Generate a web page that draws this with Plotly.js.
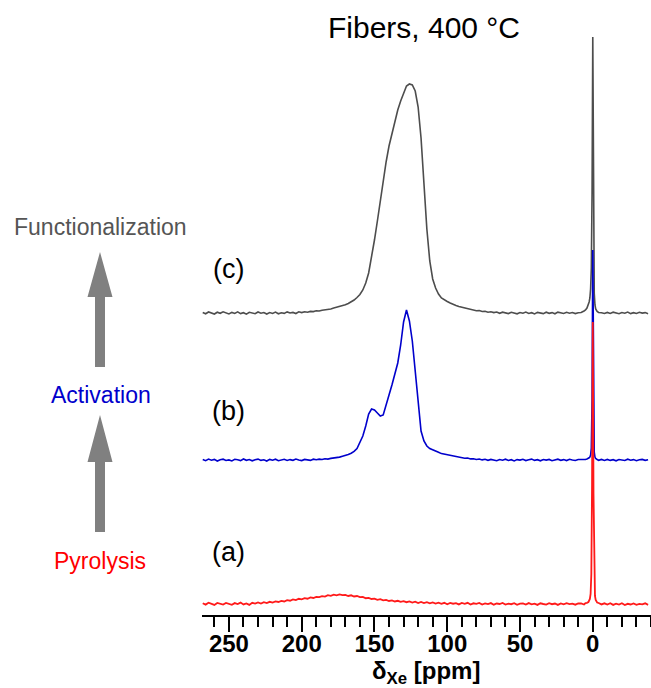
<!DOCTYPE html>
<html>
<head>
<meta charset="utf-8">
<script src="https://cdn.plot.ly/plotly-3.0.1.min.js"></script>
<style>html,body{margin:0;padding:0;background:#fff;}#chart{width:651px;height:688px;}</style>
</head>
<body>
<div id="chart"></div>
<script>
// Chemical shift axis (ppm), shared by all three spectra
const ppm = [
268,266,264,262,260,258,256,254,252,250,
248,246,244,242,240,238,236,234,232,230,
228,226,224,222,220,218,216,214,212,210,
208,206,204,202,200,198,196,194,192,190,
188,186,184,182,180,178,176,174,172,170,
168,166,164,162,160,158,156,154,152,150,
148,146,144,142,140,138,136,134,132,130,
128,126,124,122,120,118,116,114,112,110,
108,106,104,102,100,98,96,94,92,90,
88,86,84,82,80,78,76,74,72,70,
68,66,64,62,60,58,56,54,52,50,
48,46,44,42,40,38,36,34,32,30,
28,26,24,22,20,18,16,14,12,10,
8,6,5,4,3,2.5,2,1.5,1,0.5,0,-0.5,-1,-1.5,-2,-3,-4,-6,-8,
-10,-12,-14,-16,-18,-20,-22,-24,-26,-28,-30,-32,-34,-36,-38
];

// (c) Functionalization — intensity above its own baseline
const specC = [
0.5,-0.8,1.0,0.2,-1.0,0.8,-0.3,1.2,0.0,-0.9,
0.6,-0.4,1.1,-0.6,0.3,-1.2,0.7,0.1,-0.7,1.0,
-0.2,0.5,-1.0,0.4,-0.5,0.9,-0.8,0.2,-0.4,1.1,
0.0,0.6,-0.5,1.2,0.4,1.3,0.8,1.6,1.4,2.2,
2.0,2.8,3.0,3.8,4.0,4.9,5.6,6.2,7.3,8.2,
9.5,11.2,13.0,15.5,18.5,23,30,40,55,73,
92,113,133,151,167,180,191,203,212,220,
227,229,228,222,206,175,128,84,52,34,
25,19,15,13,11.5,10,8.5,7.5,6.5,5.8,
4.8,4.2,3.2,3.0,2.2,2.4,1.5,1.8,0.8,1.3,
0.4,1.0,-0.3,0.8,0.1,-0.6,0.7,0.0,-0.8,0.5,
-0.2,0.9,-0.5,0.3,-0.9,0.6,0.0,-0.6,0.8,-0.3,
0.4,-0.8,0.9,0.1,-0.5,0.7,-0.2,0.5,-0.6,0.3,
0.5,2,3,5,8,11,15,24,45,120,276,90,20,8,4,1.5,0.5,0.3,-0.5,
0.6,-0.4,0.8,0,-0.7,0.5,-0.2,0.9,-0.6,0.3,-0.5,0.7,-0.1,0.4,-0.7
];

// (b) Activation
const specB = [
0.4,-0.7,0.9,-0.2,0.6,-1.0,0.3,0.8,-0.5,0.1,
-0.9,0.7,0.2,-0.6,1.0,-0.3,0.5,-0.8,0.3,0.9,
-0.4,0.2,-1.0,0.6,-0.2,0.8,-0.7,0.1,0.7,-0.5,
0.4,-0.3,0.9,0.0,-0.6,0.6,0.2,-0.4,0.8,0.3,
0.9,0.5,1.2,0.9,1.6,1.9,2.6,2.9,3.8,4.4,
5.6,6.8,8.6,11.5,17,24,34,46,51,50,
47,44,45,54,65,75,86,97,115,138,
150,139,119,89,52,29,19,14,11.5,10,
8.5,7.8,6.4,5.8,4.9,4.3,3.6,3.3,2.5,2.4,
1.8,1.9,1.1,1.3,0.5,1.0,0.1,0.7,-0.3,0.6,
0.0,-0.7,0.5,-0.2,0.8,-0.5,0.3,-0.9,0.4,-0.1,
0.7,-0.6,0.2,0.9,-0.4,0.3,-0.8,0.5,-0.1,0.6,
-0.7,0.2,0.8,-0.3,0.4,-0.6,0.7,0.0,-0.5,0.5,
0.3,0.8,0.5,1,1.5,2.2,3,5,12,60,210,40,8,3,1.5,0.5,-0.3,0.6,-0.4,
0.6,-0.4,0.3,-0.8,0.5,0.1,-0.5,0.8,-0.2,0.4,-0.7,0.2,0.6,-0.3,0.3
];

// (a) Pyrolysis
const specA = [
0.8,-0.6,1.3,0.2,-0.9,1.0,0.1,-0.5,1.1,0.3,
-0.8,0.9,0.0,1.4,-0.4,0.6,-0.9,1.2,0.4,1.6,
0.5,1.9,1.0,2.2,1.4,2.6,2.0,3.1,2.5,3.8,
3.3,4.6,3.9,5.2,4.6,5.8,5.3,6.6,6.0,7.2,
6.8,7.9,7.4,8.8,8.2,9.4,8.6,9.6,8.8,9.1,
8.0,8.7,7.5,8.0,6.8,7.1,5.8,6.2,5.0,5.4,
4.2,4.8,3.6,4.1,3.0,3.6,2.5,3.2,2.1,2.8,
1.8,2.6,1.5,2.3,1.0,2.0,0.9,1.8,0.6,1.5,
0.4,1.3,0.2,1.2,-0.2,1.1,0.3,0.9,-0.4,1.0,
0.1,1.2,-0.5,0.7,0.2,1.1,-0.6,0.6,-0.1,0.9,
-0.7,0.5,0.0,1.0,-0.5,0.4,-0.2,0.8,-0.8,0.3,
0.6,-0.6,0.9,-0.3,0.4,-0.9,0.7,0.0,-0.6,0.8,
-0.2,0.5,-0.9,0.6,-0.4,0.9,-0.1,0.4,-0.7,0.5,
0.6,-0.5,1,1.2,2,3.5,5,10,30,120,282,110,25,8,4,1.5,1,-0.4,0.7,
-0.5,0.8,-0.9,0.3,-0.6,0.7,-1.0,0.2,-0.5,0.6,-0.8,0.1,-0.4,0.7,-0.9
];

const xTickVals = [250,200,150,100,50,0];
const xTickText = ['250','200','150','100','50','0'];
const sampleLabels = ['(a)','(b)','(c)'];
const stepLabels = ['Pyrolysis','Activation','Functionalization'];
const titleText = 'Fibers, 400 °C';
const axisTitle = 'δ<sub>Xe</sub> [ppm]';

// ---- presentation ----
const W = 651, H = 688;
const L = 202, R = 0, T = 20, B = 73;
const PW = W - L - R, PH = H - T - B;
const FONT = 'Liberation Sans, Arial, Helvetica, sans-serif';
const colA = '#ff1a1a', colB = '#0000cc', colC = '#4d4d4d';
const offA = 11, offB = 155, offC = 302;

function px(x){ return (x - L) / PW; }
function py(y){ return (T + PH - y) / PH; }
function shifted(arr, off){ return arr.map(v => v + off); }

const traces = [
  {x: ppm, y: shifted(specC, offC), mode: 'lines', line: {color: colC, width: 1.6}, hoverinfo: 'skip'},
  {x: ppm, y: shifted(specB, offB), mode: 'lines', line: {color: colB, width: 1.6}, hoverinfo: 'skip'},
  {x: ppm, y: shifted(specA, offA), mode: 'lines', line: {color: colA, width: 1.8}, hoverinfo: 'skip'}
];

function arrowPath(cx, tip, headBase, bottom){
  const hw = 12.5, sw = 5;
  const pts = [[cx-sw,bottom],[cx-sw,headBase],[cx-hw,headBase],[cx,tip],[cx+hw,headBase],[cx+sw,headBase],[cx+sw,bottom]];
  return 'M' + pts.map(p => px(p[0]) + ',' + py(p[1])).join(' L') + ' Z';
}

const shapes = [
  {type: 'path', xref: 'paper', yref: 'paper', path: arrowPath(100, 252, 297, 367), fillcolor: '#808080', line: {width: 0}},
  {type: 'path', xref: 'paper', yref: 'paper', path: arrowPath(100, 415, 462, 532), fillcolor: '#808080', line: {width: 0}}
];

const annotations = [
  {text: sampleLabels[2], x: px(228), y: py(269), font:{family:FONT, size:27, color:'#000'}},
  {text: sampleLabels[1], x: px(228), y: py(411), font:{family:FONT, size:27, color:'#000'}},
  {text: sampleLabels[0], x: px(228), y: py(552), font:{family:FONT, size:27, color:'#000'}},
  {text: stepLabels[2], x: px(100), y: py(227), font:{family:FONT, size:23, color:'#555555'}},
  {text: stepLabels[1], x: px(101), y: py(395), font:{family:FONT, size:23, color:colB}},
  {text: stepLabels[0], x: px(100), y: py(561), font:{family:FONT, size:23, color:'#ff0000'}},
  {text: axisTitle, x: px(426), y: py(672), font:{family:FONT, size:24, weight:'bold', color:'#000'}}
];
annotations.forEach(a => { a.xref='paper'; a.yref='paper'; a.showarrow=false; a.xanchor='center'; a.yanchor='middle'; });

const layout = {
  width: W, height: H,
  margin: {l: L, r: R, t: T, b: B, pad: 0},
  paper_bgcolor: '#fff', plot_bgcolor: '#fff',
  showlegend: false,
  font: {family: FONT, color: '#000'},
  title: {text: titleText, xref: 'container', yref: 'container', x: 424/W, y: 1 - 27/H, xanchor: 'center', yanchor: 'middle', font: {family: FONT, size: 30, color: '#000'}},
  xaxis: {
    range: [268.5, -40], showgrid: false, zeroline: false,
    showline: true, linecolor: '#000', linewidth: 2,
    ticks: 'outside', ticklen: 15, tickwidth: 2, tickcolor: '#000',
    tickvals: xTickVals, ticktext: xTickText,
    ticklabelstandoff: -9,
    tickfont: {family: FONT, size: 24, weight: 'bold', color: '#000'},
    minor: {dtick: 10, tick0: 0, ticks: 'outside', ticklen: 10, tickwidth: 2, tickcolor: '#000', showgrid: false},
    fixedrange: true
  },
  yaxis: {range: [0, PH], visible: false, fixedrange: true},
  shapes: shapes,
  annotations: annotations
};

Plotly.newPlot('chart', traces, layout, {staticPlot: true, displayModeBar: false});
</script>
</body>
</html>
